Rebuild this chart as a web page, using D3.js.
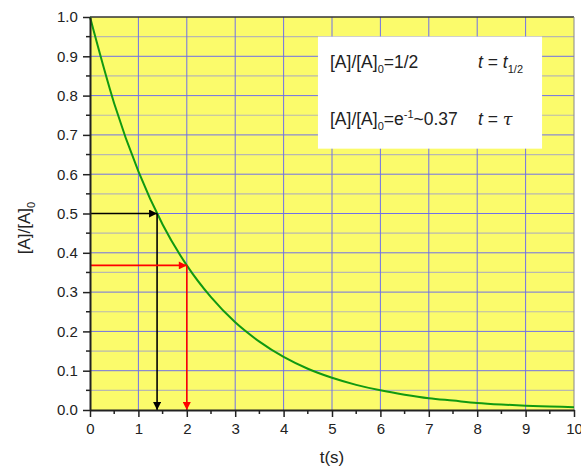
<!DOCTYPE html>
<html>
<head>
<meta charset="utf-8">
<script src="https://cdn.jsdelivr.net/npm/d3@7"></script>
<style>
  body { margin: 0; background: #fff; }
  text { font-family: "Liberation Sans", Arial, sans-serif; }
</style>
</head>
<body>
<div id="chart"></div>
<script>
// values
let t_vals = [0, 0.5, 1, 1.5, 2, 2.5, 3, 3.5, 4, 4.5, 5, 5.5, 6, 6.5, 7, 7.5, 8, 8.5, 9, 9.5, 10];
let a_vals = [1.0, 0.78, 0.607, 0.472, 0.368, 0.287, 0.223, 0.174, 0.135, 0.105, 0.082, 0.064, 0.05, 0.039, 0.030, 0.024, 0.018, 0.014, 0.011, 0.009, 0.007];

let x_ticks = d3.range(0, 11, 1);
let y_ticks = d3.range(0, 1.01, 0.1);

// the two marked points (t, ratio, colour)
let marks_t = [1.386, 2.0];
let marks_a = [0.5, 0.368];
let marks_col = ['#000000', '#ff0000'];

//********size
let width = 581;
let height = 469;
let margin = { left: 90, right: 7, top: 17, bottom: 59 };
//******

let x = d3.scaleLinear().domain([0, 10]).range([margin.left, width - margin.right]);
let y = d3.scaleLinear().domain([0, 1]).range([height - margin.bottom, margin.top]);

let svg = d3.select('#chart').append('svg')
    .attr('width', width)
    .attr('height', height);

let defs = svg.append('defs');
marks_col.forEach((c, i) => {
    defs.append('marker')
        .attr('id', 'arr' + i)
        .attr('viewBox', '0 0 10 10')
        .attr('refX', 10).attr('refY', 5)
        .attr('markerWidth', 10).attr('markerHeight', 8)
        .attr('markerUnits', 'userSpaceOnUse')
        .attr('orient', 'auto')
        .append('path')
        .attr('d', 'M0,0 L10,5 L0,10 Z')
        .attr('fill', c);
});

// background
svg.append('rect')
    .attr('x', x(0)).attr('y', y(1))
    .attr('width', x(10) - x(0)).attr('height', y(0) - y(1))
    .attr('fill', '#fbfb6b');

// minor horizontal grid
svg.append('g').selectAll('line')
    .data(d3.range(0.05, 1, 0.1))
    .enter().append('line')
    .attr('x1', x(0)).attr('x2', x(10))
    .attr('y1', d => y(d)).attr('y2', d => y(d))
    .attr('stroke', '#b8b8b0').attr('stroke-width', 1.2);

// major grid
svg.append('g').selectAll('line')
    .data(y_ticks.slice(1, -1))
    .enter().append('line')
    .attr('x1', x(0)).attr('x2', x(10))
    .attr('y1', d => y(d)).attr('y2', d => y(d))
    .attr('stroke', '#7070e8').attr('stroke-width', 1);
svg.append('g').selectAll('line')
    .data(x_ticks.slice(1, -1))
    .enter().append('line')
    .attr('y1', y(0)).attr('y2', y(1))
    .attr('x1', d => x(d)).attr('x2', d => x(d))
    .attr('stroke', '#7070e8').attr('stroke-width', 1);

// frame: top and right
svg.append('line')
    .attr('x1', x(0)).attr('x2', x(10)).attr('y1', y(1)).attr('y2', y(1))
    .attr('stroke', '#333').attr('stroke-width', 1.5);
svg.append('line')
    .attr('x1', x(10)).attr('x2', x(10)).attr('y1', y(1)).attr('y2', y(0))
    .attr('stroke', '#888').attr('stroke-width', 1);

// text box
let box = svg.append('g');
box.append('rect')
    .attr('x', x(4.71)).attr('y', y(0.95))
    .attr('width', x(9.34) - x(4.71)).attr('height', y(0.665) - y(0.95))
    .attr('fill', '#fff');

let fs = 17.5, fsub = 11;
let t1 = box.append('text').attr('x', 330).attr('y', 68).attr('font-size', fs).attr('fill', '#222');
t1.append('tspan').text('[A]/[A]');
t1.append('tspan').attr('font-size', fsub).attr('dy', 5).text('0');
t1.append('tspan').attr('dy', -5).text('=1/2');
let t2 = box.append('text').attr('x', 330).attr('y', 125).attr('font-size', fs).attr('fill', '#222');
t2.append('tspan').text('[A]/[A]');
t2.append('tspan').attr('font-size', fsub).attr('dy', 5).text('0');
t2.append('tspan').attr('dy', -5).text('=e');
t2.append('tspan').attr('font-size', fsub).attr('dy', -7).text('-1');
t2.append('tspan').attr('dy', 7).text('~0.37');

let r1 = box.append('text').attr('x', 478).attr('y', 68).attr('font-size', fs).attr('fill', '#222');
r1.append('tspan').attr('font-style', 'italic').text('t');
r1.append('tspan').text(' = ');
r1.append('tspan').attr('font-style', 'italic').text('t');
r1.append('tspan').attr('font-size', fsub).attr('dy', 5).text('1/2');
let r2 = box.append('text').attr('x', 478).attr('y', 125).attr('font-size', fs).attr('fill', '#222');
r2.append('tspan').attr('font-style', 'italic').text('t');
r2.append('tspan').text(' = ');
r2.append('tspan').attr('font-style', 'italic').attr('font-family', 'DejaVu Serif').text('\u03c4');

// curve
let line = d3.line()
    .x((d, i) => x(t_vals[i]))
    .y(d => y(d))
    .curve(d3.curveMonotoneX);
svg.append('path')
    .attr('d', line(a_vals))
    .attr('fill', 'none')
    .attr('stroke', '#119911')
    .attr('stroke-width', 2);

// arrows
marks_t.forEach((t, i) => {
    svg.append('line')
        .attr('x1', x(0)).attr('y1', y(marks_a[i]))
        .attr('x2', x(t)).attr('y2', y(marks_a[i]))
        .attr('stroke', marks_col[i]).attr('stroke-width', 1.6)
        .attr('marker-end', 'url(#arr' + i + ')');
    svg.append('line')
        .attr('x1', x(t)).attr('y1', y(marks_a[i]))
        .attr('x2', x(t)).attr('y2', y(0))
        .attr('stroke', marks_col[i]).attr('stroke-width', 1.6)
        .attr('marker-end', 'url(#arr' + i + ')');
});

// axes
let xAxis = svg.append('g')
    .attr('transform', 'translate(0,' + y(0) + ')')
    .call(d3.axisBottom(x).tickValues(x_ticks).tickFormat(d3.format('d')).tickSize(7).tickSizeOuter(0));
let yAxis = svg.append('g')
    .attr('transform', 'translate(' + x(0) + ',0)')
    .call(d3.axisLeft(y).tickValues(y_ticks).tickFormat(d3.format('.1f')).tickSize(7).tickSizeOuter(0));

[xAxis, yAxis].forEach(a => {
    a.select('.domain').attr('stroke', '#222').attr('stroke-width', 2);
    a.selectAll('.tick line').attr('stroke', '#222').attr('stroke-width', 1.5);
    a.selectAll('.tick text').attr('font-size', 15).attr('fill', '#222')
        .attr('font-family', '"Liberation Sans", Arial, sans-serif');
});
xAxis.selectAll('.tick text').attr('dy', '0.95em');
yAxis.selectAll('.tick text').attr('dx', '-0.15em');

// minor ticks
svg.append('g').selectAll('line')
    .data(d3.range(0.5, 10, 1))
    .enter().append('line')
    .attr('x1', d => x(d)).attr('x2', d => x(d))
    .attr('y1', y(0)).attr('y2', y(0) + 4)
    .attr('stroke', '#222').attr('stroke-width', 1.5);
svg.append('g').selectAll('line')
    .data(d3.range(0.05, 1, 0.1))
    .enter().append('line')
    .attr('x1', x(0) - 4).attr('x2', x(0))
    .attr('y1', d => y(d)).attr('y2', d => y(d))
    .attr('stroke', '#222').attr('stroke-width', 1.5);

// axis titles
svg.append('text')
    .attr('x', 332).attr('y', 463)
    .attr('text-anchor', 'middle')
    .attr('font-size', 17).attr('fill', '#222')
    .text('t(s)');
let yl = svg.append('text')
    .attr('transform', 'translate(30,' + 228 + ') rotate(-90)')
    .attr('text-anchor', 'middle')
    .attr('font-size', 17).attr('fill', '#222');
yl.append('tspan').text('[A]/[A]');
yl.append('tspan').attr('font-size', 11).attr('dy', 5).text('0');
</script>
</body>
</html>
